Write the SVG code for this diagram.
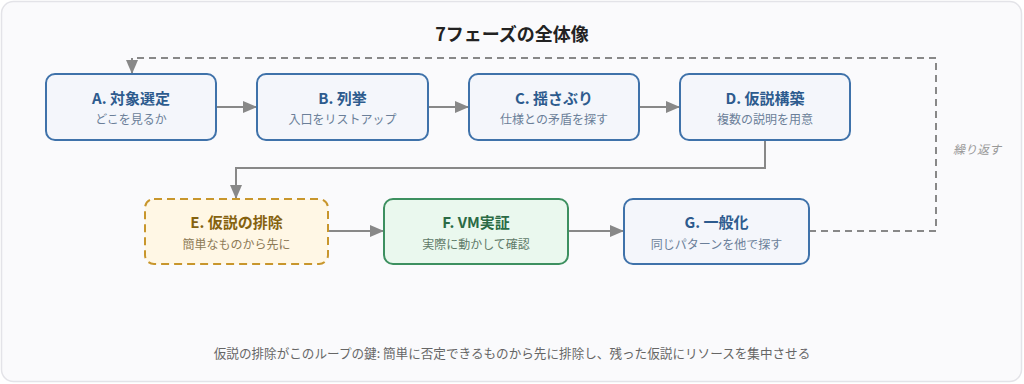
<svg xmlns="http://www.w3.org/2000/svg" width="1024" height="384" viewBox="0 0 1024 384">
<style>
text{font-family:"Noto Sans CJK JP","Noto Sans",sans-serif;text-anchor:middle}
.title{font-size:18px;font-weight:bold;fill:#222}
.nt{font-size:15px;font-weight:bold;fill:#2d5b8e}
.ns{font-size:12px;fill:#6b7f99}
.box{fill:#f4f6fb;stroke:#3f72aa;stroke-width:2}
.ebox{fill:#fff7e5;stroke:#c8962c;stroke-width:2;stroke-dasharray:8 5}
.et{font-size:15px;font-weight:bold;fill:#85620f}
.es{font-size:12px;fill:#8d7a55}
.fbox{fill:#eaf8ee;stroke:#3d9060;stroke-width:2}
.ft{font-size:15px;font-weight:bold;fill:#2b6b45}
.fs{font-size:12px;fill:#5f7a68}
.c{fill:none;stroke:#888;stroke-width:2}
.d{fill:none;stroke:#888;stroke-width:2;stroke-dasharray:7 5}
</style>
<defs>
<marker id="ahb" viewBox="0 0 14 12" refX="14" refY="6" markerWidth="14" markerHeight="12" markerUnits="userSpaceOnUse" orient="auto">
<path d="M0,0 L14,6 L0,12 z" fill="#888"/>
</marker>
</defs>
<rect x="1.5" y="1.5" width="1020" height="380" rx="12" fill="#fafafc" stroke="#e3e3e8" stroke-width="1.5"/>
<text class="title" x="512" y="41">7フェーズの全体像</text>
<g id="connectors">
<path class="c" d="M216 107 H257" marker-end="url(#ahb)"/>
<path class="c" d="M428 107 H469" marker-end="url(#ahb)"/>
<path class="c" d="M639 107 H680" marker-end="url(#ahb)"/>
<path class="c" d="M765 140 V168 H236 V199" marker-end="url(#ahb)"/>
<path class="c" d="M328 231 H384" marker-end="url(#ahb)"/>
<path class="c" d="M568 231 H624" marker-end="url(#ahb)"/>
<path class="d" d="M809 231 H936 V58 H132 V74" marker-end="url(#ahb)"/>
<text x="977" y="154" style="font-size:12px;font-style:italic;fill:#999">繰り返す</text>
</g>
<g id="A"><rect class="box" x="46" y="74" width="170" height="66" rx="9"/><text class="nt" x="131" y="103.5">A. 対象選定</text><text class="ns" x="131" y="123.5">どこを見るか</text></g>
<g id="B"><rect class="box" x="257" y="74" width="171" height="66" rx="9"/><text class="nt" x="342.5" y="103.5">B. 列挙</text><text class="ns" x="342.5" y="123.5">入口をリストアップ</text></g>
<g id="C"><rect class="box" x="469" y="74" width="170" height="66" rx="9"/><text class="nt" x="554" y="103.5">C. 揺さぶり</text><text class="ns" x="554" y="123.5">仕様との矛盾を探す</text></g>
<g id="D"><rect class="box" x="680" y="74" width="170" height="66" rx="9"/><text class="nt" x="765" y="103.5">D. 仮説構築</text><text class="ns" x="765" y="123.5">複数の説明を用意</text></g>
<g id="E"><rect class="ebox" x="145" y="199" width="183" height="65" rx="9"/><text class="et" x="236.5" y="227.5">E. 仮説の排除</text><text class="es" x="236.5" y="248.5">簡単なものから先に</text></g>
<g id="F"><rect class="fbox" x="384" y="199" width="184" height="65" rx="9"/><text class="ft" x="476" y="227.5">F. VM実証</text><text class="fs" x="476" y="248.5">実際に動かして確認</text></g>
<g id="G"><rect class="box" x="624" y="199" width="185" height="65" rx="9"/><text class="nt" x="716.5" y="227.5">G. 一般化</text><text class="ns" x="716.5" y="248.5">同じパターンを他で探す</text></g>
<text x="512" y="357.5" style="font-size:12.6px;fill:#666">仮説の排除がこのループの鍵: 簡単に否定できるものから先に排除し、残った仮説にリソースを集中させる</text>
</svg>
